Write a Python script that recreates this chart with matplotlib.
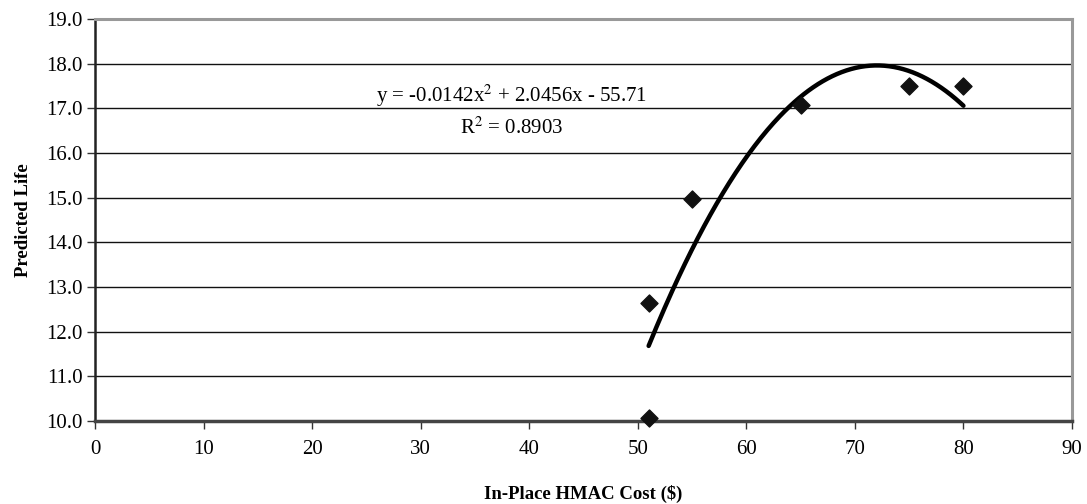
import numpy as np
import matplotlib
matplotlib.use("Agg")
import matplotlib.pyplot as plt

cost = [51, 51, 55, 65, 75, 80]
life = [12.65, 10.07, 14.97, 17.07, 17.5, 17.5]
coef = [-0.0142, 2.0456, -55.71]
trend_range = [51, 80]
x_ticks = [0, 10, 20, 30, 40, 50, 60, 70, 80, 90]
y_ticks = [10.0, 11.0, 12.0, 13.0, 14.0, 15.0, 16.0, 17.0, 18.0, 19.0]

plt.rcParams['font.family'] = ['Liberation Serif', 'DejaVu Serif']

fig = plt.figure(figsize=(10.87, 5.04), dpi=100)
ax = fig.add_axes([95/1087, 1-421/504, (1072-95)/1087, (421-19)/504])

for y in y_ticks[1:-1]:
    ax.axhline(y, color='#111111', lw=1.0, zorder=1)

xx = np.linspace(trend_range[0], trend_range[1], 200)
yy = np.polyval(coef, xx)
ax.plot(xx, yy, color='black', lw=3.2, solid_capstyle='round', zorder=3)

ax.scatter(cost, life, marker='D', s=75, color='#111111', zorder=4, clip_on=False)

ax.set_xlim(0, 90)
ax.set_ylim(10, 19)
ax.set_xticks(x_ticks)
ax.set_yticks(y_ticks)
ax.set_yticklabels([f"{v:.1f}" for v in y_ticks])
ax.tick_params(axis='both', labelsize=15, length=6, width=1, color='#333333', direction='out')
ax.tick_params(axis='x', pad=8)
ax.tick_params(axis='y', pad=3)

ax.spines['left'].set_color('#222222')
ax.spines['left'].set_linewidth(1.8)
ax.spines['bottom'].set_color('#444444')
ax.spines['bottom'].set_linewidth(2.5)
ax.spines['top'].set_color('#999999')
ax.spines['top'].set_linewidth(2.2)
ax.spines['right'].set_color('#999999')
ax.spines['right'].set_linewidth(2.2)

ax.set_xlabel('In-Place HMAC Cost ($)', fontsize=13.5, fontweight='bold', labelpad=18)
ax.set_ylabel('Predicted Life', fontsize=13.5, fontweight='bold', labelpad=10)

ax.text(38.4, 17.27, r'y = -0.0142x$^2$ + 2.0456x - 55.71', fontsize=15, ha='center', va='center',
        math_fontfamily='stix')
ax.text(38.4, 16.55, r'R$^2$ = 0.8903', fontsize=15, ha='center', va='center',
        math_fontfamily='stix')

fig.savefig('out.png', dpi=100)
